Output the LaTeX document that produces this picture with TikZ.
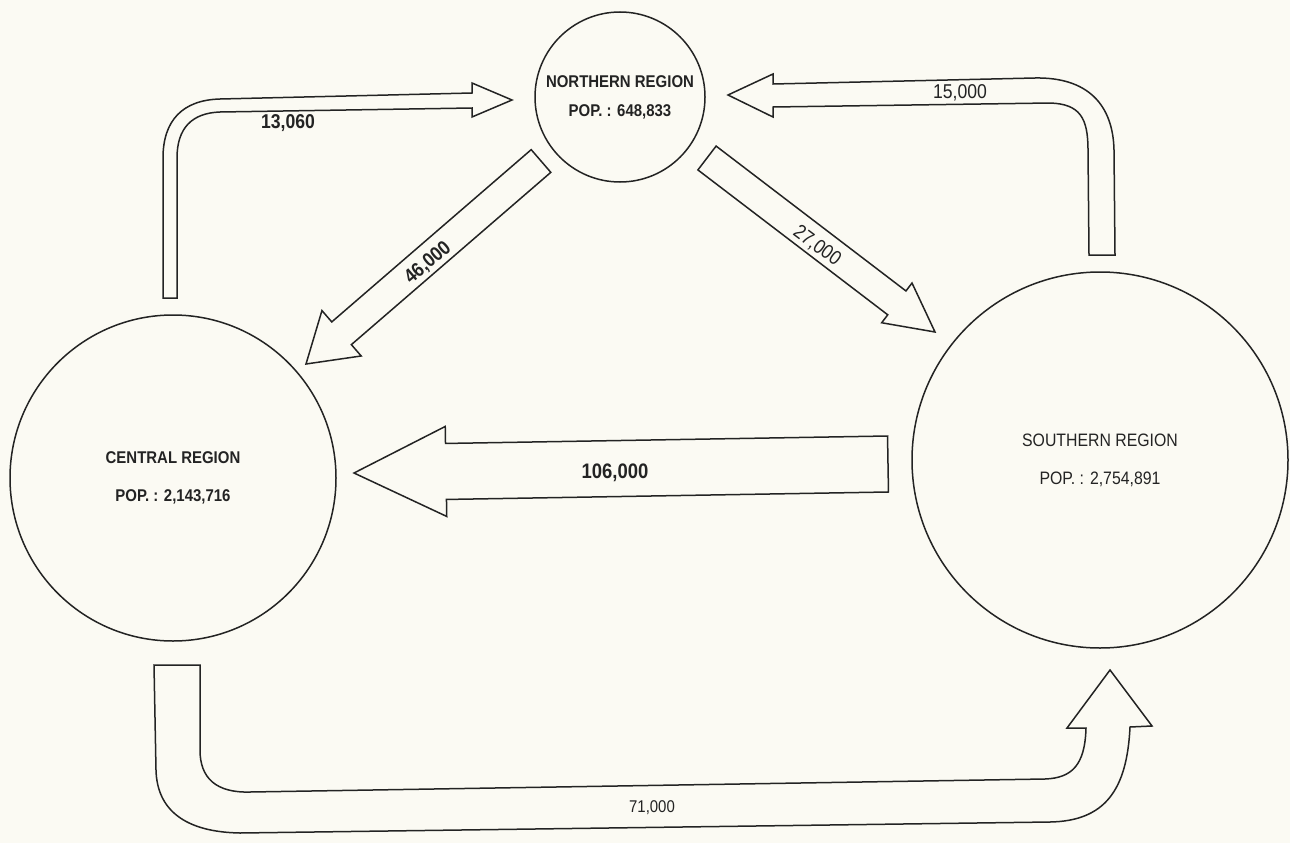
\documentclass[tikz,border=0pt]{standalone}
\usepackage{fontspec}
\setmainfont{Liberation Sans}
\newfontfamily\condfont[FakeStretch=0.88]{Liberation Sans}
\usetikzlibrary{calc}
\definecolor{paper}{RGB}{251,250,243}
\definecolor{ink}{RGB}{35,35,35}

\begin{document}
\begin{tikzpicture}[x=1pt,y=-1pt,
  region/.style={circle, draw=ink, line width=1.5pt, inner sep=0pt, align=center, text=ink},
  flow/.style={draw=ink, line width=1.5pt, line join=miter},
  qty/.style={text=ink, inner sep=0pt, font=\condfont\fontsize{20}{22}\selectfont},
  bqty/.style={qty, font=\condfont\bfseries\fontsize{20}{22}\selectfont}]
\fill[paper] (0,0) rectangle (1290,843);
\useasboundingbox (0,0) rectangle (1290,843);

\node[region, minimum size=170pt, font=\condfont\bfseries\fontsize{17}{20}\selectfont] (north) at (620,97) {NORTHERN REGION\\[9pt]POP. : 648,833};
\node[region, minimum size=326pt, font=\condfont\bfseries\fontsize{17}{20}\selectfont] (central) at (173,478) {CENTRAL REGION\\[18pt]POP. : 2,143,716};
\node[region, minimum size=376pt, font=\condfont\fontsize{18}{21}\selectfont] (south) at (1100,460) {SOUTHERN REGION\\[17pt]POP. : 2,754,891};

% north -> central
\coordinate (n2c-a) at (541,161);
\coordinate (n2c-b) at (306,364);
\coordinate (n2c-c) at ($(n2c-b)!47pt!(n2c-a)$);
\draw[flow] ($(n2c-a)!15pt!90:(n2c-b)$) -- ($(n2c-c)!15pt!90:(n2c-b)$) -- ($(n2c-c)!30pt!90:(n2c-b)$) -- (n2c-b)
  -- ($(n2c-c)!30pt!-90:(n2c-b)$) -- ($(n2c-c)!15pt!-90:(n2c-b)$) -- ($(n2c-a)!15pt!-90:(n2c-b)$) -- cycle;
\node[bqty, rotate=40.4] (n2c-lbl) at (428,263) {46,000};

% north -> south
\coordinate (n2s-a) at (707,158);
\coordinate (n2s-b) at (935,332);
\coordinate (n2s-c) at ($(n2s-b)!48pt!(n2s-a)$);
\draw[flow] ($(n2s-a)!15pt!90:(n2s-b)$) -- ($(n2s-c)!15pt!90:(n2s-b)$) -- ($(n2s-c)!25pt!90:(n2s-b)$) -- (n2s-b)
  -- ($(n2s-c)!25pt!-90:(n2s-b)$) -- ($(n2s-c)!15pt!-90:(n2s-b)$) -- ($(n2s-a)!15pt!-90:(n2s-b)$) -- cycle;
\node[qty, rotate=-36.7] (n2s-lbl) at (817,246) {27,000};

% south -> central
\coordinate (s2c-a) at (888,464);
\coordinate (s2c-b) at (354,473);
\coordinate (s2c-c) at ($(s2c-b)!92pt!(s2c-a)$);
\draw[flow] ($(s2c-a)!28pt!90:(s2c-b)$) -- ($(s2c-c)!28pt!90:(s2c-b)$) -- ($(s2c-c)!45pt!90:(s2c-b)$) -- (s2c-b)
  -- ($(s2c-c)!45pt!-90:(s2c-b)$) -- ($(s2c-c)!28pt!-90:(s2c-b)$) -- ($(s2c-a)!28pt!-90:(s2c-b)$) -- cycle;
\node[bqty, font=\condfont\bfseries\fontsize{21}{22}\selectfont] (s2c-lbl) at (615,473) {106,000};

% central -> north
\draw[flow] (163,298) -- (163,158) .. controls (163,120) and (183,100) .. (220,99) -- (472,93) -- (472,83) -- (512,100)
  -- (472,117) -- (472,108) -- (220,112) .. controls (192,113) and (177,128) .. (177,158) -- (177,298) -- cycle;
\node[bqty] (c2n-lbl) at (288,123) {13,060};

% south -> north
\draw[flow] (1089,255) -- (1088,150) .. controls (1088,118) and (1080,104) .. (1050,103) -- (773,107) -- (773,117) -- (728,95)
  -- (773,74) -- (773,84) -- (1035,78) .. controls (1088,77) and (1113,105) .. (1114,150) -- (1115,255) -- cycle;
\node[qty] (s2n-lbl) at (960,93) {15,000};

% central -> south
\draw[flow] (154,665) -- (156,770) .. controls (157,810) and (185,832) .. (240,833) -- (1050,822)
  .. controls (1105,821) and (1127,790) .. (1130,727) -- (1152,726) -- (1110,670) -- (1067,728) -- (1086,728)
  .. controls (1085,765) and (1072,778) .. (1045,779) -- (250,792) .. controls (216,793) and (200,778) .. (200,750) -- (200,665) -- cycle;
\node[qty, font=\condfont\fontsize{17}{18}\selectfont] (c2s-lbl) at (652,808) {71,000};
\end{tikzpicture}
\end{document}
